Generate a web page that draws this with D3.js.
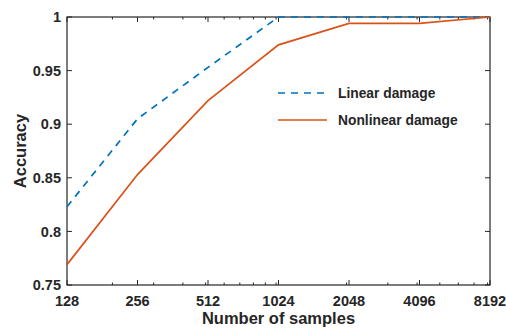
<!DOCTYPE html>
<html>
<head>
<meta charset="utf-8">
<script src="https://cdn.jsdelivr.net/npm/d3@7"></script>
<style>
  body { margin: 0; background: #fff; }
  text { font-family: "Liberation Sans", Arial, sans-serif; font-weight: bold; fill: #262626; }
</style>
</head>
<body>
<div id="main"></div>
<script>
const samples = [128, 256, 512, 1024, 2048, 4096, 8192];
const linearDamage = [0.823, 0.905, 0.953, 1.0, 1.0, 1.0, 1.0];
const nonlinearDamage = [0.769, 0.853, 0.922, 0.974, 0.994, 0.994, 1.0];
const yTicks = [0.75, 0.8, 0.85, 0.9, 0.95, 1];
const yTickLabels = ['0.75', '0.8', '0.85', '0.9', '0.95', '1'];
const xMinorTicks = [200, 300, 400, 500, 600, 700, 800, 900, 1000, 2000, 3000, 4000, 5000, 6000, 7000, 8000];
const seriesNames = ['Linear damage', 'Nonlinear damage'];

const W = 506, H = 328;
const margin = { top: 17, right: 16, bottom: 43, left: 67 };
const width = W - margin.left - margin.right;
const height = H - margin.top - margin.bottom;

const svg = d3.select('#main').append('svg')
  .attr('width', W)
  .attr('height', H);

const g = svg.append('g')
  .attr('transform', 'translate(' + margin.left + ',' + margin.top + ')');

const x = d3.scaleLog().base(2)
  .domain([128, 8192])
  .range([0, width]);

const y = d3.scaleLinear()
  .domain([0.75, 1])
  .range([height, 0]);

const axisColor = '#262626';
const major = 5, minor = 2.5;

// box
g.append('rect')
  .attr('width', width)
  .attr('height', height)
  .attr('fill', 'none')
  .attr('stroke', axisColor)
  .attr('stroke-width', 1.2);

// x ticks, bottom and top, pointing inwards
function xTickLines(vals, len) {
  vals.forEach((v) => {
    g.append('line')
      .attr('x1', x(v)).attr('x2', x(v))
      .attr('y1', height).attr('y2', height - len)
      .attr('stroke', axisColor);
    g.append('line')
      .attr('x1', x(v)).attr('x2', x(v))
      .attr('y1', 0).attr('y2', len)
      .attr('stroke', axisColor);
  });
}
xTickLines(samples, major);
xTickLines(xMinorTicks, minor);

yTicks.forEach((v) => {
  g.append('line')
    .attr('x1', 0).attr('x2', major)
    .attr('y1', y(v)).attr('y2', y(v))
    .attr('stroke', axisColor);
  g.append('line')
    .attr('x1', width).attr('x2', width - major)
    .attr('y1', y(v)).attr('y2', y(v))
    .attr('stroke', axisColor);
});

// tick labels
g.selectAll('.xlab')
  .data(samples)
.enter().append('text')
  .attr('class', 'xlab')
  .attr('x', (d) => x(d))
  .attr('y', height + 21)
  .attr('text-anchor', 'middle')
  .attr('font-size', 14.5)
  .text((d) => d);

g.selectAll('.ylab')
  .data(yTicks)
.enter().append('text')
  .attr('class', 'ylab')
  .attr('x', -6)
  .attr('y', (d) => y(d))
  .attr('dy', '0.36em')
  .attr('text-anchor', 'end')
  .attr('font-size', 14.5)
  .text((d, i) => yTickLabels[i]);

// axis titles
svg.append('text')
  .attr('x', margin.left + width / 2)
  .attr('y', 324)
  .attr('text-anchor', 'middle')
  .attr('font-size', 16.5)
  .text('Number of samples');

svg.append('text')
  .attr('transform', 'translate(26,' + (margin.top + height / 2) + ') rotate(-90)')
  .attr('text-anchor', 'middle')
  .attr('font-size', 16.5)
  .text('Accuracy');

// lines
const line = d3.line()
  .x((d) => x(d[0]))
  .y((d) => y(d[1]));

const series = [
  { name: seriesNames[0], values: linearDamage, color: '#0072BD', dash: '7,6' },
  { name: seriesNames[1], values: nonlinearDamage, color: '#D95319', dash: null }
];

series.forEach((s) => {
  g.append('path')
    .datum(samples.map((v, i) => [v, s.values[i]]))
    .attr('d', line)
    .attr('fill', 'none')
    .attr('stroke', s.color)
    .attr('stroke-width', 1.7)
    .attr('stroke-dasharray', s.dash);
});

// legend
const legend = svg.append('g')
  .attr('transform', 'translate(278,93)');

series.forEach((s, i) => {
  const row = legend.append('g')
    .attr('transform', 'translate(0,' + (i * 27) + ')');
  row.append('line')
    .attr('x1', 0).attr('x2', 49)
    .attr('stroke', s.color)
    .attr('stroke-width', 1.7)
    .attr('stroke-dasharray', s.dash);
  row.append('text')
    .attr('x', 60)
    .attr('dy', '0.36em')
    .attr('font-size', 13.8)
    .text(s.name);
});
</script>
</body>
</html>
